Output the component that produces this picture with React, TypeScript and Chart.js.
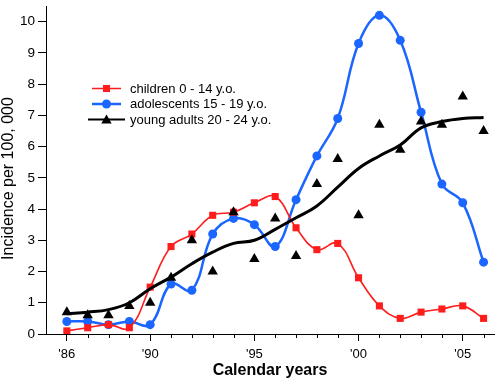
import React, { useEffect, useRef } from "react";
import { Chart, registerables } from "chart.js";
Chart.register(...registerables);

const years = [1986, 1987, 1988, 1989, 1990, 1991, 1992, 1993, 1994, 1995, 1996, 1997, 1998, 1999, 2000, 2001, 2002, 2003, 2004, 2005, 2006];
const children = [0.1, 0.2, 0.3, 0.2, 1.5, 2.8, 3.2, 3.8, 3.9, 4.2, 4.4, 3.4, 2.7, 2.9, 1.8, 0.9, 0.5, 0.7, 0.8, 0.9, 0.5];
const adolescents = [0.4, 0.4, 0.3, 0.4, 0.3, 1.6, 1.4, 3.2, 3.7, 3.5, 2.8, 4.3, 5.7, 6.9, 9.3, 10.2, 9.4, 7.1, 4.8, 4.2, 2.3];
const youngAdults = [0.7, 0.6, 0.6, 0.9, 1.0, 1.8, 3.0, 2.0, 3.9, 2.4, 3.7, 2.5, 4.8, 5.6, 3.8, 6.7, 5.9, 6.8, 6.7, 7.6, 6.5];
const youngAdultsTrend = [0.65, 0.7, 0.78, 1.0, 1.45, 1.82, 2.25, 2.62, 2.9, 3.0, 3.35, 3.72, 4.1, 4.7, 5.3, 5.7, 6.05, 6.6, 6.8, 6.9, 6.93];
const majorYears = [1986, 1990, 1995, 2000, 2005];
const seriesLabels = ["children 0 - 14 y.o.", "adolescents 15 - 19 y.o.", "young adults 20 - 24 y.o."];
const xTitle = "Calendar years";
const yTitle = "Incidence per 100, 000";

const RED = "#ff1c1c";
const BLUE = "#1a66ff";
const BLACK = "#000000";
const FONT = "'Liberation Sans', Arial, sans-serif";

const pts = (vals: number[]) => vals.map((v, i) => ({ x: years[i], y: v }));

function drawMarker(ctx: CanvasRenderingContext2D, style: string, x: number, y: number, r: number, color: string) {
  ctx.fillStyle = color;
  ctx.beginPath();
  if (style === "rect") {
    const s = r * Math.SQRT1_2;
    ctx.rect(x - s, y - s, 2 * s, 2 * s);
  } else if (style === "circle") {
    ctx.arc(x, y, r, 0, Math.PI * 2);
  } else {
    const a = (2 * Math.PI) / 3;
    ctx.moveTo(x, y - r);
    ctx.lineTo(x + Math.sin(a) * r, y - Math.cos(a) * r);
    ctx.lineTo(x + Math.sin(2 * a) * r, y - Math.cos(2 * a) * r);
    ctx.closePath();
  }
  ctx.fill();
}

const decorPlugin = {
  id: "decor",
  afterDraw(chart: any) {
    const ctx: CanvasRenderingContext2D = chart.ctx;
    const xs = chart.scales.x;
    const area = chart.chartArea;
    ctx.save();
    // minor ticks
    ctx.strokeStyle = BLACK;
    ctx.lineWidth = 1;
    years.forEach((yr) => {
      if (majorYears.includes(yr)) return;
      const px = Math.round(xs.getPixelForValue(yr)) + 0.5;
      ctx.beginPath();
      ctx.moveTo(px, area.bottom);
      ctx.lineTo(px, area.bottom + 4);
      ctx.stroke();
    });
    // legend
    const items = [
      { label: seriesLabels[0], color: RED, style: "rect", r: 5, lw: 1.5, x0: 92, x1: 121, y: 88.5 },
      { label: seriesLabels[1], color: BLUE, style: "circle", r: 4.5, lw: 2.5, x0: 92, x1: 121, y: 104 },
      { label: seriesLabels[2], color: BLACK, style: "triangle", r: 6, lw: 2, x0: 88, x1: 125, y: 119.5 },
    ];
    ctx.font = `13px ${FONT}`;
    ctx.textBaseline = "middle";
    ctx.textAlign = "left";
    items.forEach((it) => {
      ctx.strokeStyle = it.color;
      ctx.lineWidth = it.lw;
      ctx.beginPath();
      ctx.moveTo(it.x0, it.y);
      ctx.lineTo(it.x1, it.y);
      ctx.stroke();
      drawMarker(ctx, it.style, (it.x0 + it.x1) / 2, it.style === "triangle" ? it.y + 1 : it.y, it.r, it.color);
      ctx.fillStyle = BLACK;
      ctx.fillText(it.label, 130, it.y + 0.5);
    });
    // axis titles
    ctx.fillStyle = BLACK;
    ctx.font = `bold 16px ${FONT}`;
    ctx.textAlign = "center";
    ctx.textBaseline = "alphabetic";
    ctx.fillText(xTitle, (area.left + area.right) / 2, 375);
    ctx.font = `16px ${FONT}`;
    ctx.translate(13, 178.5);
    ctx.rotate(-Math.PI / 2);
    ctx.fillText(yTitle, 0, 0);
    ctx.restore();
  },
};

export default function App() {
  const ref = useRef<HTMLCanvasElement | null>(null);
  useEffect(() => {
    document.body.style.margin = "0";
    if (!ref.current) return;
    const chart = new Chart(ref.current, {
      type: "line",
      data: {
        datasets: [
          {
            label: seriesLabels[2],
            data: pts(youngAdults),
            showLine: false,
            pointStyle: "triangle",
            pointRadius: 6,
            pointBackgroundColor: BLACK,
            pointBorderWidth: 0,
            borderColor: BLACK,
            order: 0,
          },
          {
            label: seriesLabels[2] + " trend",
            data: pts(youngAdultsTrend),
            borderColor: BLACK,
            borderWidth: 3,
            pointRadius: 0,
            tension: 0.4,
            order: 1,
          },
          {
            label: seriesLabels[0],
            data: pts(children),
            borderColor: RED,
            borderWidth: 1.6,
            pointStyle: "rect",
            pointRadius: 5,
            pointBackgroundColor: RED,
            pointBorderWidth: 0,
            tension: 0.4,
            order: 2,
          },
          {
            label: seriesLabels[1],
            data: pts(adolescents),
            borderColor: BLUE,
            borderWidth: 2.5,
            pointStyle: "circle",
            pointRadius: 4.5,
            pointBackgroundColor: BLUE,
            pointBorderWidth: 0,
            tension: 0.4,
            order: 3,
          },
        ],
      },
      options: {
        animation: false,
        responsive: false,
        layout: { padding: { top: 1, right: 3, left: 0, bottom: 0 } },
        plugins: { legend: { display: false }, tooltip: { enabled: false } },
        scales: {
          x: {
            type: "linear",
            min: 1985,
            max: 2006.5,
            afterFit: (s: any) => {
              s.height = 48;
            },
            border: { color: BLACK, width: 1 },
            grid: {
              drawOnChartArea: false,
              tickLength: 7,
              tickColor: (c: any) => (c.tick && majorYears.includes(c.tick.value) ? BLACK : "rgba(0,0,0,0)"),
            },
            ticks: {
              stepSize: 1,
              autoSkip: false,
              maxRotation: 0,
              includeBounds: false,
              padding: 6,
              color: BLACK,
              font: { family: FONT, size: 13 },
              callback: (v: any) => (majorYears.includes(Number(v)) ? "'" + String(v).slice(2) : ""),
            },
          },
          y: {
            min: 0,
            max: 10.5,
            afterFit: (s: any) => {
              s.width = 46;
              s.paddingTop = 0;
            },
            border: { color: BLACK, width: 1 },
            grid: { drawOnChartArea: false, tickLength: 8, tickColor: BLACK },
            ticks: {
              stepSize: 1,
              includeBounds: false,
              padding: 3,
              color: BLACK,
              font: { family: FONT, size: 13.5 },
            },
          },
        },
      },
      plugins: [decorPlugin],
    });
    return () => chart.destroy();
  }, []);
  return <canvas ref={ref} width={500} height={382} style={{ display: "block" }} />;
}
